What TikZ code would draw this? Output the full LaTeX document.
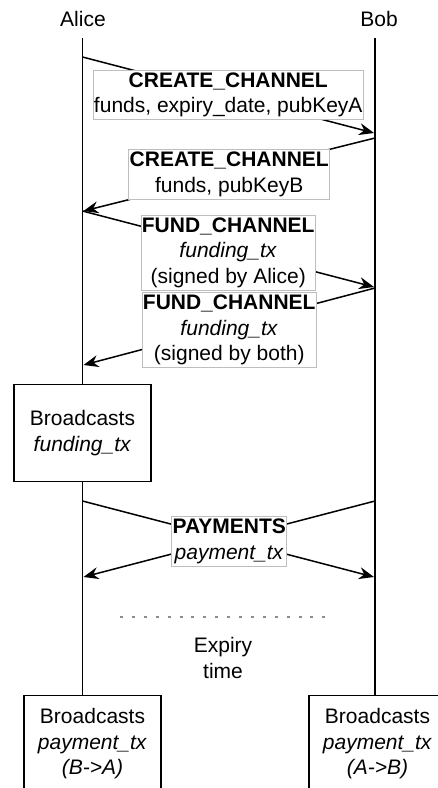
\documentclass[tikz,border=0pt]{standalone}
\usepackage{fontspec}
\setmainfont{Liberation Sans}
\usetikzlibrary{arrows.meta}
\definecolor{lblgray}{RGB}{190,190,190}
\definecolor{dotgray}{RGB}{140,140,140}

\begin{document}
\begin{tikzpicture}[x=0.5pt, y=-0.5pt, font=\fontsize{10.5}{12.75}\selectfont,
  >={Stealth[length=7.5pt,width=6pt,inset=2.5pt]},
  life/.style={line width=0.75pt},
  msg/.style={line width=0.75pt, ->},
  lbl/.style={draw=lblgray, fill=white, line width=0.4pt, align=center,
              inner xsep=0.5pt, inner ysep=1.2pt},
  bx/.style={draw, line width=0.75pt, fill=white, align=center,
             minimum width=68.5pt, minimum height=48.5pt}]

\clip (0,0) rectangle (438,788);

% --- participants ---
\node (alice) at (83,19) {Alice};
\node (bob) at (379,19) {Bob};
\coordinate (atop) at (82.5,38);
\coordinate (btop) at (375,38);

% --- broadcast boxes ---
\node[bx] (fund) at (82.5,433) {Broadcasts\\\textit{funding\_tx}};
\node[bx] (payA) at (92.5,744) {Broadcasts\\\textit{payment\_tx}\\\textit{(B->A)}};
\node[bx] (payB) at (377.5,744) {Broadcasts\\\textit{payment\_tx}\\\textit{(A->B)}};

% --- lifelines ---
\draw[life] (atop) -- (fund.north);
\draw[life] (fund.south) -- (fund.south |- payA.north);
\draw[life] (btop) -- (btop |- payB.north);

% --- message ends on the lifelines ---
\coordinate (a1) at (82.5,57);  \coordinate (b1) at (374,133);
\coordinate (b2) at (375,138);  \coordinate (a2) at (83.5,211);
\coordinate (a3) at (82.5,211); \coordinate (b3) at (374,287);
\coordinate (b4) at (375,288);  \coordinate (a4) at (83.5,365);
\coordinate (a5) at (82.5,501); \coordinate (b5) at (375,501);
\coordinate (a6) at (83.5,577); \coordinate (b6) at (374,577);

% --- channel set-up ---
\draw[msg] (a1) -- node[lbl] (cc1) {\textbf{CREATE\_CHANNEL}\\funds, expiry\_date, pubKeyA} (b1);
\draw[msg] (b2) -- node[lbl] (cc2) {\textbf{CREATE\_CHANNEL}\\funds, pubKeyB} (a2);
\draw[msg] (a3) -- node[lbl, yshift=-1.75pt] (fc1) {\textbf{FUND\_CHANNEL}\\\textit{funding\_tx}\\(signed by Alice)} (b3);
\draw[msg] (b4) -- node[lbl, yshift=-1.75pt] (fc2) {\textbf{FUND\_CHANNEL}\\\textit{funding\_tx}\\(signed by both)} (a4);

% --- payments ---
\draw[msg] (a5) -- (b6);
\draw[msg] (b5) -- node[lbl, yshift=-1.25pt] (pay) {\textbf{PAYMENTS}\\\textit{payment\_tx}} (a6);

% --- expiry ---
\coordinate (dl) at (120,617);
\coordinate (dr) at (328,617);
\draw[dotgray, line width=0.75pt, dash pattern=on 1.5pt off 4.45pt] (dl) -- (dr);
\node[align=center] (exp) at (223,658) {Expiry\\time};
\end{tikzpicture}
\end{document}
